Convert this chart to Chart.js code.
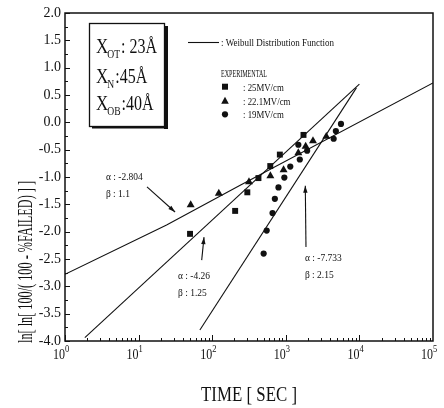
<!DOCTYPE html>
<html>
<head>
<meta charset="utf-8">
<script src="https://cdn.jsdelivr.net/npm/chart.js@4/dist/chart.umd.min.js"></script>
<style>
  html, body { margin: 0; padding: 0; background: #fff; }
  canvas { display: block; }
</style>
</head>
<body>
<canvas id="weibullChart" width="444" height="408"></canvas>
<script>
// values (time in sec, ln[ln[100/(100-%F)]])
const t25 = [50, 205, 300, 425, 615, 830, 1740];
const v25 = [-2.04, -1.62, -1.28, -1.02, -0.80, -0.59, -0.23];
const t22 = [51, 123, 316, 617, 933, 1480, 1860, 2340, 3550];
const v22 = [-1.51, -1.30, -1.09, -0.98, -0.87, -0.56, -0.44, -0.34, -0.26];
const t19 = [500, 550, 660, 710, 795, 955, 1150, 1480, 1550, 1950, 4470, 4790, 5620];
const v19 = [-2.40, -1.98, -1.66, -1.40, -1.19, -1.01, -0.81, -0.41, -0.68, -0.52, -0.30, -0.16, -0.03];

// weibull fit lines
const fit22T = [1, 24, 240, 100000];
const fit22V = [-2.78, -1.88, -1.15, 0.72];
const fit25T = [1.86, 10000];
const fit25V = [-3.94, 0.70];
const fit19T = [68, 9100];
const fit19V = [-3.80, 0.63];

const xTicks = [1, 10, 100, 1000, 10000, 100000];
const xTickExp = ['0', '1', '2', '3', '4', '5'];

// annotations: text start, arrow tail, arrow head (time, value)
const noteText = [['α : -2.804', 'β : 1.1'], ['α : -4.26', 'β : 1.25'], ['α : -7.733', 'β : 2.15']];
const noteAt = [[3.6, -0.98], [34.3, -2.79], [1820, -2.47]];
const arrowFrom = [[13.0, -1.18], [72, -2.52], [1880, -2.28]];
const arrowTo = [[31.3, -1.64], [77.4, -2.10], [1840, -1.16]];

const seriesNames = [': 25MV/cm', ': 22.1MV/cm', ': 19MV/cm'];

const ink = '#111';
const serif = '"Liberation Serif", "Times New Roman", serif';

const pts = (xs, ys) => xs.map((x, i) => ({x: x, y: ys[i]}));

function measure(ctx, s, size) {
  ctx.save();
  ctx.font = size + 'px ' + serif;
  const w = ctx.measureText(s).width;
  ctx.restore();
  return w;
}

function txt(ctx, s, x, y, size, scaleX, align) {
  ctx.save();
  ctx.font = size + 'px ' + serif;
  ctx.fillStyle = ink;
  ctx.textBaseline = 'alphabetic';
  ctx.textAlign = align || 'left';
  ctx.translate(x, y);
  ctx.scale(scaleX || 1, 1);
  ctx.fillText(s, 0, 0);
  ctx.restore();
  return measure(ctx, s, size) * (scaleX || 1);
}

function marker(ctx, type, x, y) {
  ctx.save();
  ctx.fillStyle = ink;
  ctx.beginPath();
  if (type === 'rect') ctx.rect(x - 3, y - 3, 6, 6);
  else if (type === 'triangle') { ctx.moveTo(x, y - 4); ctx.lineTo(x + 3.8, y + 3); ctx.lineTo(x - 3.8, y + 3); ctx.closePath(); }
  else ctx.arc(x, y, 3.1, 0, Math.PI * 2);
  ctx.fill();
  ctx.restore();
}

function arrow(ctx, x1, y1, x2, y2) {
  ctx.save();
  ctx.strokeStyle = ink;
  ctx.fillStyle = ink;
  ctx.lineWidth = 1.1;
  ctx.beginPath();
  ctx.moveTo(x1, y1);
  ctx.lineTo(x2, y2);
  ctx.stroke();
  const a = Math.atan2(y2 - y1, x2 - x1);
  ctx.beginPath();
  ctx.moveTo(x2, y2);
  ctx.lineTo(x2 - 7 * Math.cos(a) + 2.2 * Math.sin(a), y2 - 7 * Math.sin(a) - 2.2 * Math.cos(a));
  ctx.lineTo(x2 - 7 * Math.cos(a) - 2.2 * Math.sin(a), y2 - 7 * Math.sin(a) + 2.2 * Math.cos(a));
  ctx.closePath();
  ctx.fill();
  ctx.restore();
}

const decor = {
  id: 'decor',
  afterDraw(c) {
    const ctx = c.ctx;
    const a = c.chartArea;
    const xs = c.scales.x, ys = c.scales.y;

    // frame
    ctx.save();
    ctx.strokeStyle = ink;
    ctx.lineWidth = 1.5;
    ctx.strokeRect(a.left, a.top, a.right - a.left, a.bottom - a.top);

    // inward ticks
    ctx.lineWidth = 1;
    ctx.beginPath();
    for (let v = -4; v <= 2.001; v += 0.25) {
      const y = Math.round(ys.getPixelForValue(v)) + 0.5;
      const len = Math.abs(v * 2 - Math.round(v * 2)) < 0.01 ? 5 : 3;
      ctx.moveTo(a.left, y);
      ctx.lineTo(a.left + len, y);
    }
    for (let d = 0; d < 5; d++) {
      for (let k = 1; k <= 9; k++) {
        const x = Math.round(xs.getPixelForValue(k * Math.pow(10, d))) + 0.5;
        const len = k === 1 ? 6 : 3;
        ctx.moveTo(x, a.bottom);
        ctx.lineTo(x, a.bottom - len);
      }
    }
    ctx.stroke();
    ctx.restore();

    // x tick labels 10^n
    xTicks.forEach((v, i) => {
      const x = xs.getPixelForValue(v);
      txt(ctx, '10', x, a.bottom + 18, 15, 0.8, 'right');
      txt(ctx, xTickExp[i], x, a.bottom + 11, 10, 0.85, 'left');
    });

    // axis titles
    const xt = 'TIME [ SEC ]';
    txt(ctx, xt, (a.left + a.right) / 2, 401, 21, 96 / measure(ctx, xt, 21), 'center');
    const yt = 'ln[ ln[ 100/( 100 - %FAILED) ] ]';
    ctx.save();
    ctx.translate(32, 262);
    ctx.rotate(-Math.PI / 2);
    txt(ctx, yt, 0, 0, 20, 162 / measure(ctx, yt, 20), 'center');
    ctx.restore();

    // parameter box
    ctx.save();
    ctx.strokeStyle = ink;
    ctx.lineWidth = 1.3;
    ctx.strokeRect(89.5, 23.5, 75, 103);
    ctx.fillStyle = ink;
    ctx.fillRect(164, 26, 4, 103);
    ctx.fillRect(92, 126, 76, 2.5);
    ctx.restore();
    const boxRows = [['OT', ': 23Å', 53], ['N', ':45Å', 83], ['OB', ':40Å', 110]];
    boxRows.forEach(r => {
      let x = 96;
      x += txt(ctx, 'X', x, r[2], 20, 0.85);
      x += txt(ctx, r[0], x - 1, r[2] + 5, 12, 0.8) - 1;
      txt(ctx, r[1], x + 1, r[2], 20, 0.8);
    });

    // legend
    ctx.save();
    ctx.strokeStyle = ink;
    ctx.lineWidth = 1.1;
    ctx.beginPath();
    ctx.moveTo(188, 42.5);
    ctx.lineTo(219, 42.5);
    ctx.stroke();
    ctx.restore();
    const lg = ': Weibull Distribution Function';
    txt(ctx, lg, 221, 46, 11, 113 / measure(ctx, lg, 11));
    txt(ctx, 'EXPERIMENTAL', 221, 76.5, 10, 46 / measure(ctx, 'EXPERIMENTAL', 10));
    const kinds = ['rect', 'triangle', 'circle'];
    const rowY = [86.7, 100.7, 114.3];
    kinds.forEach((k, i) => {
      marker(ctx, k, 225, rowY[i]);
      txt(ctx, seriesNames[i], 243, rowY[i] + 3.8, 11, 0.8);
    });

    // annotations with arrows
    noteText.forEach((n, i) => {
      const x = xs.getPixelForValue(noteAt[i][0]);
      const y = ys.getPixelForValue(noteAt[i][1]);
      txt(ctx, n[0], x, y + 4, 11, 0.86);
      txt(ctx, n[1], x, y + 21, 11, 0.86);
      arrow(ctx,
        xs.getPixelForValue(arrowFrom[i][0]), ys.getPixelForValue(arrowFrom[i][1]),
        xs.getPixelForValue(arrowTo[i][0]), ys.getPixelForValue(arrowTo[i][1]));
    });
  }
};

const lineSet = (xs, ys) => ({
  data: pts(xs, ys), showLine: true, borderColor: ink, borderWidth: 1.1,
  pointRadius: 0, fill: false, tension: 0
});
const markSet = (xs, ys, style, r) => ({
  data: pts(xs, ys), showLine: false, pointStyle: style, pointRadius: r,
  backgroundColor: ink, borderColor: ink, borderWidth: 0
});

const chart = new Chart(document.getElementById('weibullChart'), {
  type: 'scatter',
  data: {
    datasets: [
      lineSet(fit22T, fit22V),
      lineSet(fit25T, fit25V),
      lineSet(fit19T, fit19V),
      markSet(t25, v25, 'rect', 4.2),
      markSet(t22, v22, 'triangle', 4.6),
      markSet(t19, v19, 'circle', 3.1)
    ]
  },
  options: {
    responsive: false,
    animation: false,
    layout: {padding: {left: 0, top: 13, right: 11, bottom: 0}},
    plugins: {legend: {display: false}, tooltip: {enabled: false}},
    scales: {
      x: {
        type: 'logarithmic', min: 1, max: 100000,
        afterBuildTicks: s => { s.ticks = xTicks.map(v => ({value: v})); },
        ticks: {display: false},
        grid: {display: false, drawTicks: false},
        border: {display: false},
        afterFit: s => { s.height = 67; }
      },
      y: {
        min: -4, max: 2,
        ticks: {stepSize: 0.5, padding: 4, color: ink, font: {family: serif, size: 14},
          callback: v => v.toFixed(1)},
        grid: {display: false, drawTicks: false},
        border: {display: false},
        afterFit: s => { s.width = 65; }
      }
    }
  },
  plugins: [decor]
});
</script>
</body>
</html>
